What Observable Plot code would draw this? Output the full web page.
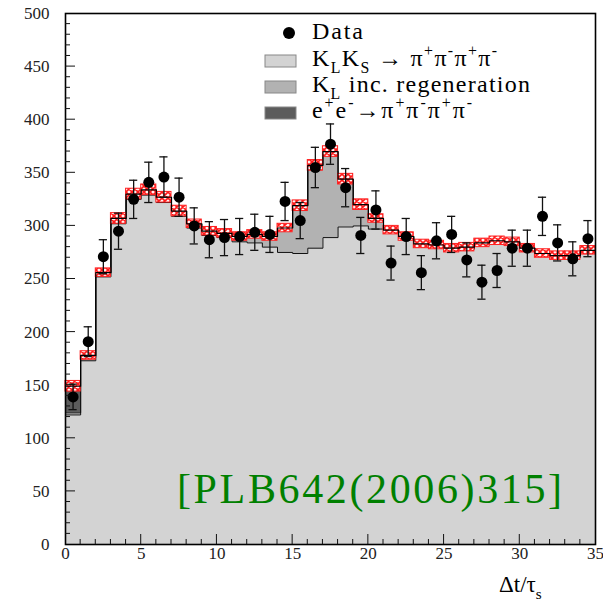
<!DOCTYPE html>
<html>
<head>
<meta charset="utf-8">
<script src="https://cdn.jsdelivr.net/npm/d3@7"></script>
<script src="https://cdn.jsdelivr.net/npm/@observablehq/plot@0.6"></script>
<style>
  html, body { margin: 0; padding: 0; background: #fff; }
  #wrap { position: relative; width: 603px; height: 603px; }
  #wrap svg text { font-family: "Liberation Serif", "DejaVu Serif", serif; }
</style>
</head>
<body>
<div id="wrap"></div>
<script>
// ---- data ----
const binStart = [0,1,2,3,4,5,6,7,8,9,10,11,12,13,14,15,16,17,18,19,20,21,22,23,24,25,26,27,28,29,30,31,32,33,34];
// KL KS -> pi+pi-pi+pi- (light gray)
const klks  = [122,173,252,302,325,329,322,309,298,291,289,285,284,280,275,274,279,289,299,300,297,294,288,281,280,277,278,282,284,283,277,272,270,270,275];
// KL inc. regeneration (mid gray)
const regen = [2,3,4,5,5,5,5,5,4,4,4,5,8,10,23,45,78,81,45,20,10,2,2,2,2,2,2,2,2,2,2,2,2,2,2];
// e+e- -> pi+pi-pi+pi- (dark gray)
const eepp  = [25,2,0,0,0,0,0,0,0,0,0,0,0,0,0,0,0,0,0,0,0,0,0,0,0,0,0,0,0,0,0,0,0,0,0];
// MC uncertainty half-width (red hatched band)
const mcErr = [5,4,4,5,5,5,5,5,4,4,4,4,4,4,4,5,5,5,5,5,4,4,4,4,4,4,4,4,4,4,4,4,4,4,4];
// Data points and their errors
const dataVal = [139,191,271,295,325,341,346,327,300,287,289,290,294,292,323,305,355,377,336,291,315,265,290,256,286,292,268,247,258,279,279,309,284,269,288];
const dataErr = [12,14,16,17,18,19,19,18,17,17,17,17,17,17,18,17,19,19,18,17,18,16,17,16,17,17,16,16,16,17,17,18,17,16,17];

const xTicks = [0,5,10,15,20,25,30,35];
const yTicks = [0,50,100,150,200,250,300,350,400,450,500];
const seriesNames = ["KLKS", "KL regen", "ee"];
const seriesColors = ["#d3d3d3", "#b2b2b2", "#5c5c5c"];

const SERIF = "Liberation Serif, DejaVu Serif, serif";

// ---- derived tables ----
const stacked = [];
binStart.forEach((b, i) => {
  stacked.push({x1: b, x2: b + 1, v: klks[i], s: seriesNames[0]});
  stacked.push({x1: b, x2: b + 1, v: regen[i], s: seriesNames[1]});
  stacked.push({x1: b, x2: b + 1, v: eepp[i], s: seriesNames[2]});
});
const bins = binStart.map((b, i) => {
  const tot = klks[i] + regen[i] + eepp[i];
  return {x1: b, x2: b + 1, xc: b + 0.5, klks: klks[i], kr: klks[i] + regen[i], tot,
          lo: tot - mcErr[i], hi: tot + mcErr[i],
          d: dataVal[i], dlo: dataVal[i] - dataErr[i], dhi: dataVal[i] + dataErr[i],
          c1: b + 0.5 - 0.27, c2: b + 0.5 + 0.27};
});
const last = bins[bins.length - 1];
const stepPts = bins.concat([{...last, x1: last.x2}]);

const plot = Plot.plot({
  width: 603, height: 603,
  marginLeft: 65, marginRight: 8, marginTop: 13, marginBottom: 59,
  style: {fontFamily: SERIF, fontSize: "17px", color: "#222", background: "white"},
  x: {domain: [0, 35], label: null},
  y: {domain: [0, 500], label: null},
  color: {domain: seriesNames, range: seriesColors},
  marks: [
    Plot.rectY(stacked, {x1: "x1", x2: "x2", y: "v", fill: "s", inset: 0, shapeRendering: "crispEdges"}),
    Plot.line(stepPts, {x: "x1", y: "klks", curve: "step-after", stroke: "#111", strokeWidth: 1}),
    Plot.line(stepPts, {x: "x1", y: "kr", curve: "step-after", stroke: "#111", strokeWidth: 1}),
    Plot.rect(bins, {x1: "x1", x2: "x2", y1: "lo", y2: "hi", fill: "url(#hatch)", stroke: "#ff2020", strokeWidth: 1, inset: 0}),
    Plot.line(stepPts, {x: "x1", y: "tot", curve: "step-after", stroke: "#000", strokeWidth: 1.2}),
    Plot.ruleX(bins, {x: "xc", y1: "dlo", y2: "dhi", stroke: "#111", strokeWidth: 1.3}),
    Plot.ruleY(bins, {y: "dlo", x1: "c1", x2: "c2", stroke: "#111", strokeWidth: 1.3}),
    Plot.ruleY(bins, {y: "dhi", x1: "c1", x2: "c2", stroke: "#111", strokeWidth: 1.3}),
    Plot.dot(bins, {x: "xc", y: "d", r: 5.5, fill: "black", stroke: "none"}),
    Plot.frame({stroke: "black", strokeWidth: 1.6}),
    Plot.axisX({ticks: xTicks, tickSize: 0, tickPadding: 2, tickFormat: d3.format("d")}),
    Plot.axisY({ticks: yTicks, tickSize: 0, tickPadding: 16, tickFormat: d3.format("d")})
  ]
});

document.getElementById("wrap").appendChild(plot);
const svg = d3.select(plot);

// hatch pattern for the MC uncertainty band
const defs = svg.insert("defs", ":first-child");
const pat = defs.append("pattern").attr("id", "hatch").attr("patternUnits", "userSpaceOnUse")
  .attr("width", 6).attr("height", 6);
pat.append("rect").attr("width", 6).attr("height", 6).attr("fill", "#fff4f4");
pat.append("path").attr("d", "M0,0L6,6M6,0L0,6M-1,5L1,7M5,-1L7,1").attr("stroke", "#ff1a1a").attr("stroke-width", 1.6);

// inward ticks drawn with Plot's own scales
const sx = plot.scale("x"), sy = plot.scale("y");
const X0 = sx.apply(0), Y0 = sy.apply(0);
const tg = svg.append("g").attr("stroke", "#111").attr("stroke-width", 1);
d3.range(0, 36, 1).forEach(v => {
  const major = v % 5 === 0;
  if (v === 0 || v === 35) return;
  tg.append("line").attr("x1", sx.apply(v)).attr("x2", sx.apply(v))
    .attr("y1", Y0).attr("y2", Y0 - (major ? 10 : 5));
});
d3.range(0, 501, 10).forEach(v => {
  const major = v % 50 === 0;
  if (v === 0 || v === 500) return;
  tg.append("line").attr("y1", sy.apply(v)).attr("y2", sy.apply(v))
    .attr("x1", X0).attr("x2", X0 + (major ? 10 : 5));
});

// helper: rich text with sub/superscripts
function richText(g, x, y, size, parts, fill, len) {
  const t = g.append("text").attr("x", x).attr("y", y)
    .attr("text-anchor", "start")
    .style("font-family", SERIF)
    .attr("font-size", size).attr("fill", fill || "#000");
  if (len) t.attr("textLength", len).attr("lengthAdjust", "spacing");
  let shift = 0;
  parts.forEach(p => {
    const [str, kind] = Array.isArray(p) ? p : [p, null];
    let target = kind === "sub" ? size * 0.3 : kind === "sup" ? -size * 0.4 : 0;
    t.append("tspan").text(str).attr("dy", target - shift)
      .attr("font-size", kind ? size * 0.66 : size);
    shift = target;
  });
  return t;
}

// legend
const lg = svg.append("g");
lg.append("circle").attr("cx", 289).attr("cy", 33).attr("r", 6).attr("fill", "black");
richText(lg, 312, 39, 24, ["Data"], null, 51);
const swY = [55, 81, 107];
swY.forEach((y, i) => {
  lg.append("rect").attr("x", 265).attr("y", y).attr("width", 31).attr("height", 12)
    .attr("fill", seriesColors[i]).attr("stroke", "#888").attr("stroke-width", 1);
});
richText(lg, 312, 66, 24, ["K", ["L", "sub"], "K", ["S", "sub"], " \u2192 \u03c0", ["+", "sup"], "\u03c0", ["-", "sup"], "\u03c0", ["+", "sup"], "\u03c0", ["-", "sup"]], null, 185);
richText(lg, 312, 92, 24, ["K", ["L", "sub"], " inc. regeneration"], null, 218);
richText(lg, 312, 118, 24, ["e", ["+", "sup"], "e", ["-", "sup"], "\u2192\u03c0", ["+", "sup"], "\u03c0", ["-", "sup"], "\u03c0", ["+", "sup"], "\u03c0", ["-", "sup"]], null, 160);

// reference tag
richText(svg, 177, 503, 42, ["[PLB642(2006)315]"], "#008000", 385);

// x-axis title
richText(svg, 499, 592, 23, ["\u0394t/\u03c4", ["s", "sub"]]);
</script>
</body>
</html>
